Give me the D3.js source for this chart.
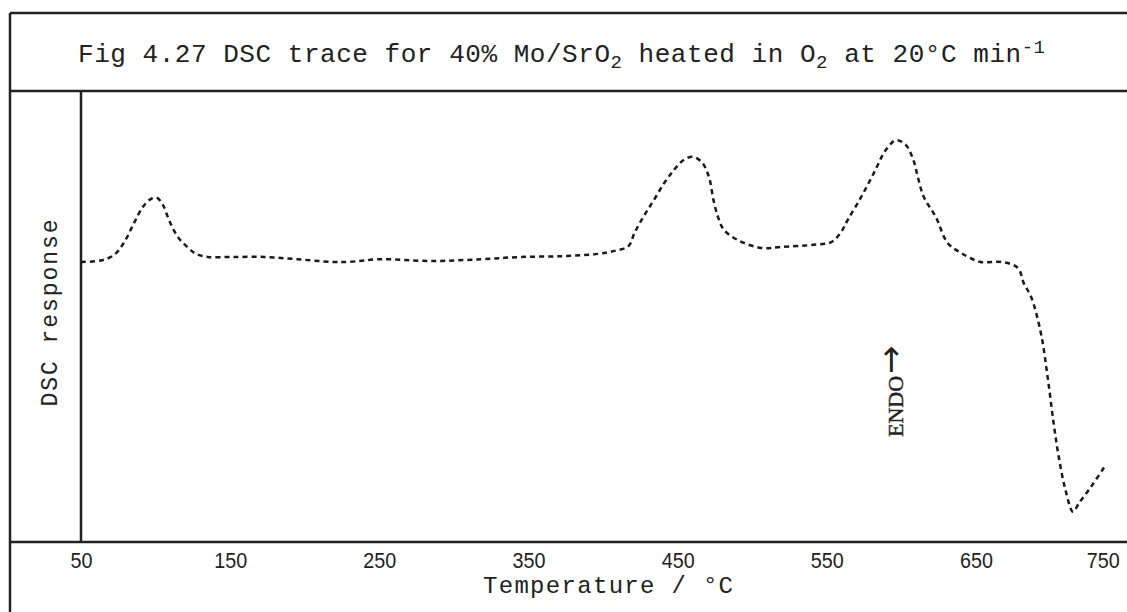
<!DOCTYPE html>
<html lang="en">
<head>
<meta charset="utf-8">
<script src="https://d3js.org/d3.v7.min.js"></script>
<style>
  body { margin: 0; background: #fff; }
  svg { display: block; }
</style>
</head>
<body>
<script>
// DSC trace, temperature (°C) vs response (arbitrary units)
var temps = [50, 63, 72, 79, 85.5, 91.5, 97, 101, 105, 109, 115, 122, 127, 135, 151, 173, 195, 218, 229, 251,
  285, 318, 345, 374, 397, 407, 417, 421, 427, 434, 441, 447.5, 454, 460, 466, 471, 474, 477, 481, 490,
  506, 519, 541, 553, 559.5, 564, 573, 581.5, 589.5, 596.5, 603, 608, 611, 615, 623, 631, 640, 653,
  667, 678, 682, 687, 693.5, 698, 702, 705.5, 710, 715, 719, 727, 736];
var response = [62.1, 62.4, 63.6, 66.5, 70.7, 74.3, 76.1, 76.3, 74.7, 71.4, 67.6, 65.2, 63.9, 63.2, 63.2, 63.2, 62.7, 62.1, 62.1, 62.7,
  62.3, 62.7, 63.2, 63.4, 63.9, 64.5, 65.6, 68.5, 72.1, 75.8, 79.6, 82.5, 84.7, 85.4, 84.3, 80.9, 75.8, 72.1, 69.2, 67.0,
  65.2, 65.4, 65.9, 66.5, 68.7, 71.4, 76.5, 81.8, 86.9, 89.1, 88.0, 84.7, 80.9, 76.5, 72.1, 66.3, 64.1, 62.1,
  62.1, 60.8, 57.4, 54.3, 46.3, 36.6, 26.4, 18.8, 11.5, 6.7, 8.6, 12.2, 16.6];
var xTicks = [50, 150, 250, 350, 450, 550, 650, 750];

var width = 1127, height = 612;
var plotLeft = 81, plotTop = 91, plotBottom = 542;
var ink = "#222";
var mono = "'Liberation Mono', 'Courier New', monospace";

var svg = d3.select("body").append("svg")
  .attr("width", width)
  .attr("height", height);

svg.append("rect").attr("width", width).attr("height", height).attr("fill", "#fff");

var x = d3.scaleLinear().domain([50, 750]).range([plotLeft, plotLeft + 700 * 1.4917]);
var y = d3.scaleLinear().domain([0, 100]).range([plotBottom, plotTop]);

// frame
var frame = [
  [10, 13, 10, height],
  [10, 13, width, 13],
  [10, plotTop, width, plotTop],
  [10, plotBottom, width, plotBottom],
  [plotLeft, plotTop, plotLeft, plotBottom]
];
svg.selectAll("line.frame")
  .data(frame)
  .enter().append("line")
  .attr("class", "frame")
  .attr("x1", function(d) { return d[0]; })
  .attr("y1", function(d) { return d[1]; })
  .attr("x2", function(d) { return d[2]; })
  .attr("y2", function(d) { return d[3]; })
  .attr("stroke", ink)
  .attr("stroke-width", 2.5);

// title
var title = svg.append("text")
  .attr("x", 78)
  .attr("y", 62)
  .attr("font-family", mono)
  .attr("font-size", 26)
  .attr("fill", ink)
  .attr("textLength", 967)
  .attr("lengthAdjust", "spacing");
title.append("tspan").text("Fig 4.27 DSC trace for 40% Mo/SrO");
title.append("tspan").attr("font-size", 19).attr("dy", 6).text("2");
title.append("tspan").attr("dy", -6).text(" heated in O");
title.append("tspan").attr("font-size", 19).attr("dy", 6).text("2");
title.append("tspan").attr("dy", -6).text(" at 20°C min");
title.append("tspan").attr("font-size", 19).attr("dy", -9).text("-1");

// x axis
var xAxis = d3.axisBottom(x).tickValues(xTicks).tickSize(0).tickPadding(10);
var gx = svg.append("g")
  .attr("transform", "translate(0," + plotBottom + ")")
  .call(xAxis);
gx.select(".domain").remove();
gx.selectAll("text")
  .attr("font-family", "'Liberation Sans Narrow', 'Liberation Sans', Arial, sans-serif")
  .attr("font-size", 22)
  .attr("fill", ink)
  .attr("textLength", function(d) { return String(d).length * 11; })
  .attr("lengthAdjust", "spacingAndGlyphs");
gx.selectAll(".tick").filter(function(d) { return d === 750; })
  .select("text")
  .attr("text-anchor", "end")
  .attr("x", -6);

svg.append("text")
  .attr("x", 608)
  .attr("y", 593)
  .attr("text-anchor", "middle")
  .attr("font-family", mono)
  .attr("font-size", 24)
  .attr("fill", ink)
  .attr("textLength", 250)
  .attr("lengthAdjust", "spacing")
  .text("Temperature / °C");

// y axis title
svg.append("text")
  .attr("transform", "translate(57,313) rotate(-90)")
  .attr("text-anchor", "middle")
  .attr("font-family", mono)
  .attr("font-size", 23)
  .attr("fill", ink)
  .attr("textLength", 187)
  .attr("lengthAdjust", "spacing")
  .text("DSC response");

// endo marker
var endo = svg.append("text")
  .attr("transform", "translate(903,437) rotate(-90)")
  .attr("font-family", "'Liberation Serif', 'Times New Roman', serif")
  .attr("font-size", 22)
  .attr("fill", ink);
endo.append("tspan")
  .attr("stroke", ink)
  .attr("stroke-width", 0.4)
  .text("ENDO");
endo.append("tspan")
  .attr("font-family", "'DejaVu Sans', sans-serif")
  .attr("font-size", 34)
  .attr("dx", 2)
  .attr("dy", -1)
  .text("\u2192");

// trace
var line = d3.line()
  .x(function(d, i) { return x(temps[i]); })
  .y(function(d) { return y(d); })
  .curve(d3.curveCatmullRom.alpha(0.5));

svg.append("path")
  .datum(response)
  .attr("d", line)
  .attr("fill", "none")
  .attr("stroke", "#1a1a1a")
  .attr("stroke-width", 2.5)
  .attr("stroke-dasharray", "5,4");
</script>
</body>
</html>
